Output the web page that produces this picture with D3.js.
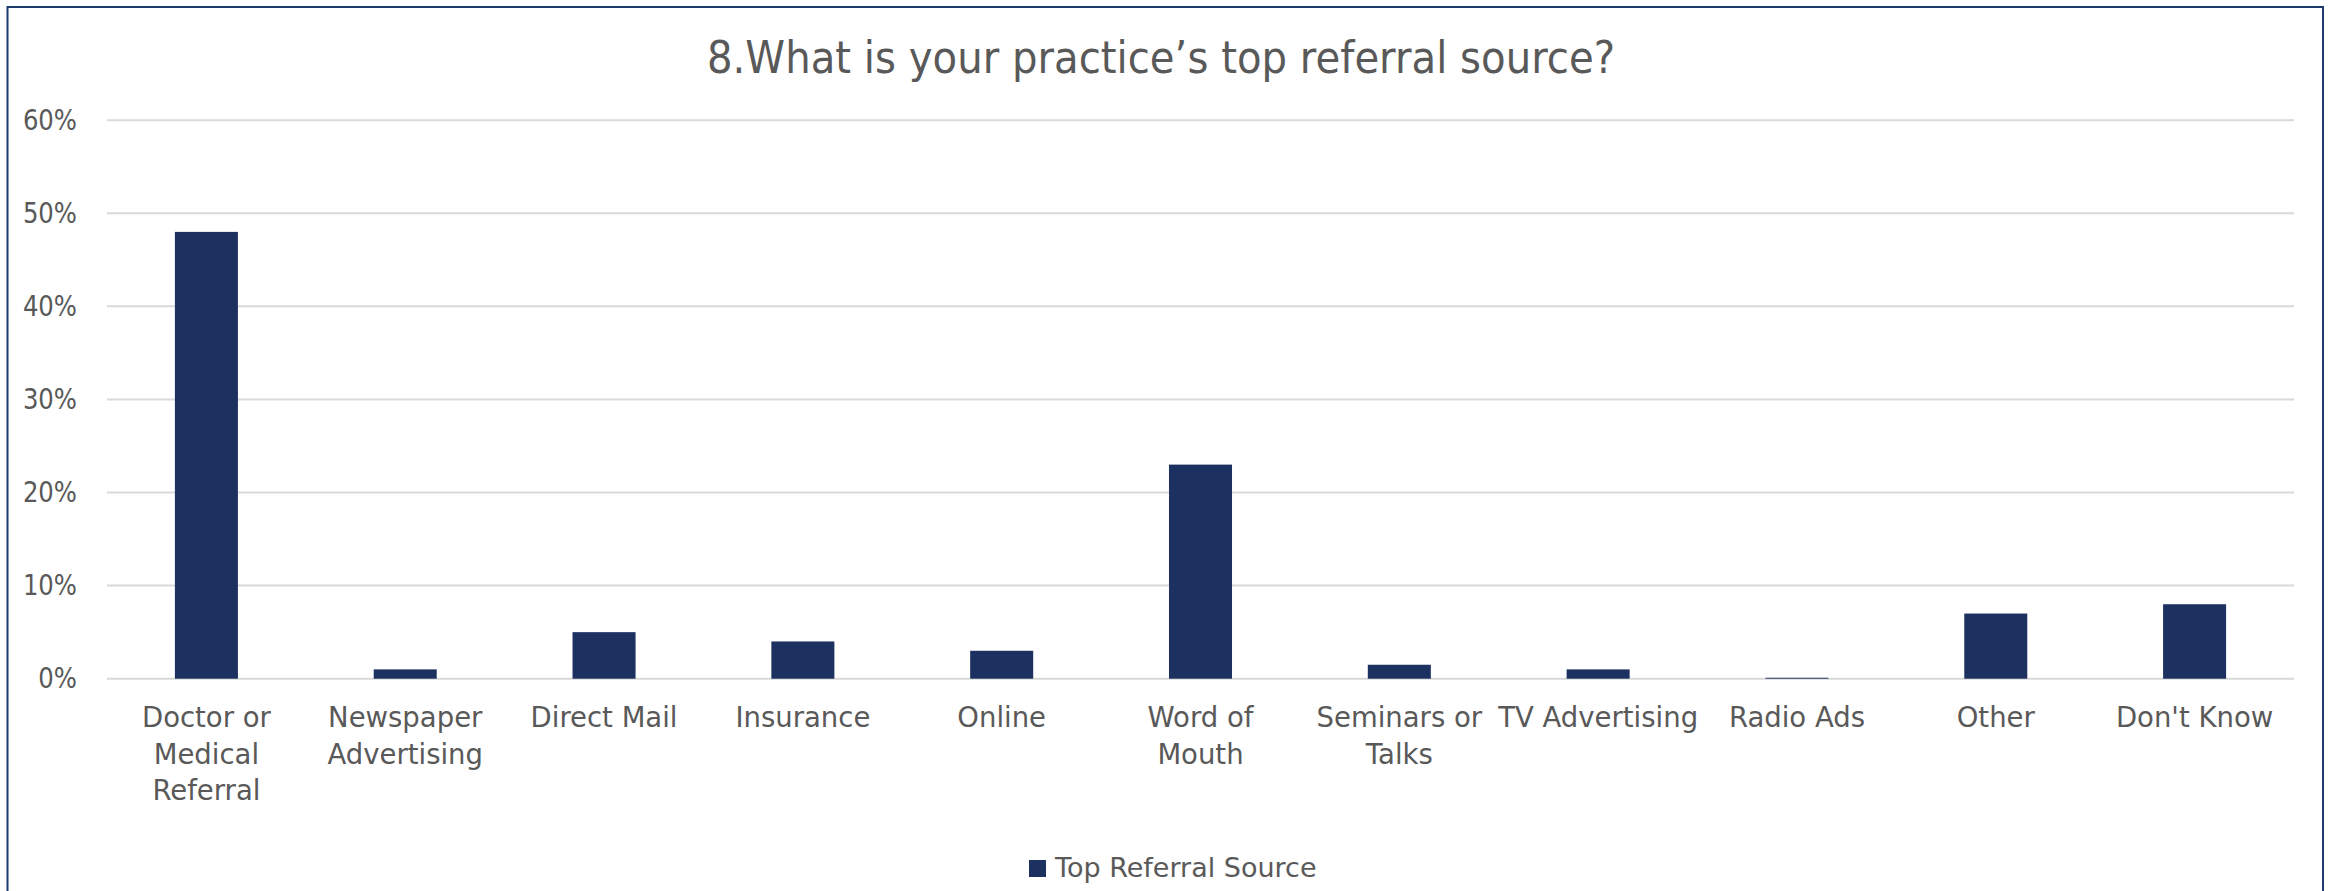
<!DOCTYPE html>
<html>
<head>
<meta charset="utf-8">
<script src="https://cdn.jsdelivr.net/npm/d3@7"></script>
<style>
  html, body { margin: 0; padding: 0; background: #ffffff; }
  svg { display: block; }
  text { font-family: "DejaVu Sans", "Noto Sans", sans-serif; fill: #595959; }
</style>
</head>
<body>
<svg id="chart" width="2336" height="891"></svg>
<script>
// Survey answers, share of respondents per referral source
const categories = [
  "Doctor or\nMedical\nReferral",
  "Newspaper\nAdvertising",
  "Direct Mail",
  "Insurance",
  "Online",
  "Word of\nMouth",
  "Seminars or\nTalks",
  "TV Advertising",
  "Radio Ads",
  "Other",
  "Don't Know"
];
const values = [0.48, 0.01, 0.05, 0.04, 0.03, 0.23, 0.015, 0.01, 0.001, 0.07, 0.08];
const yTicks = [0, 0.1, 0.2, 0.3, 0.4, 0.5, 0.6];
const seriesName = "Top Referral Source";
const titleText = "8.What is your practice\u2019s top referral source?";

const W = 2336, H = 891;
const plot = { left: 107, right: 2294, top: 120.2, bottom: 678.7 };
const barColor = "#1c3160";
const frameColor = "#1f3a6e";
const gridColor = "#d9d9d9";

const svg = d3.select("#chart");

svg.append("rect")
  .attr("x", 0).attr("y", 0).attr("width", W).attr("height", H)
  .attr("fill", "#ffffff");

// outer chart frame (runs off the bottom edge)
svg.append("rect")
  .attr("x", 7.5).attr("y", 7).attr("width", 2315.5).attr("height", H + 20)
  .attr("fill", "none").attr("stroke", frameColor).attr("stroke-width", 2);

const x = d3.scaleBand()
  .domain(categories)
  .range([plot.left, plot.right])
  .paddingInner(0.683)
  .paddingOuter(0.683 / 2);

const y = d3.scaleLinear()
  .domain([0, 0.6])
  .range([plot.bottom, plot.top]);

// horizontal gridlines
svg.append("g")
  .selectAll("line")
  .data(yTicks)
  .join("line")
  .attr("x1", plot.left).attr("x2", plot.right)
  .attr("y1", d => y(d)).attr("y2", d => y(d))
  .attr("stroke", gridColor).attr("stroke-width", 2);

// y axis labels (slightly narrowed glyphs)
const yAxis = d3.axisLeft(y)
  .tickValues(yTicks)
  .tickFormat(d3.format(".0%"))
  .tickSize(0)
  .tickPadding(0);

const yg = svg.append("g")
  .attr("transform", `translate(${77},0)`)
  .call(yAxis);
yg.select(".domain").remove();
yg.selectAll("text")
  .attr("font-size", 29)
  .attr("font-family", "\"DejaVu Sans\", sans-serif")
  .attr("fill", "#595959")
  .attr("transform", "scale(0.84,1)");

// bars
svg.append("g")
  .selectAll("rect")
  .data(values)
  .join("rect")
  .attr("x", (d, i) => x(categories[i]))
  .attr("width", x.bandwidth())
  .attr("y", d => y(d))
  .attr("height", d => y(0) - y(d))
  .attr("fill", barColor);

// category labels, wrapped onto several lines
const xg = svg.append("g");
categories.forEach(c => {
  const lines = c.split("\n");
  const t = xg.append("text")
    .attr("text-anchor", "middle")
    .attr("font-size", 27.5)
    .attr("x", x(c) + x.bandwidth() / 2)
    .attr("y", 727);
  lines.forEach((ln, j) => {
    t.append("tspan")
      .attr("x", x(c) + x.bandwidth() / 2)
      .attr("dy", j === 0 ? 0 : 36.5)
      .text(ln);
  });
});

// title (narrowed horizontally)
svg.append("text")
  .attr("transform", "translate(1161,73) scale(0.894,1)")
  .attr("text-anchor", "middle")
  .attr("font-size", 45)
  .text(titleText);

// legend
const lg = svg.append("g");
lg.append("rect")
  .attr("x", 1029).attr("y", 860).attr("width", 17).attr("height", 17)
  .attr("fill", barColor);
lg.append("text")
  .attr("x", 1055).attr("y", 877)
  .attr("font-size", 27)
  .text(seriesName);
</script>
</body>
</html>
